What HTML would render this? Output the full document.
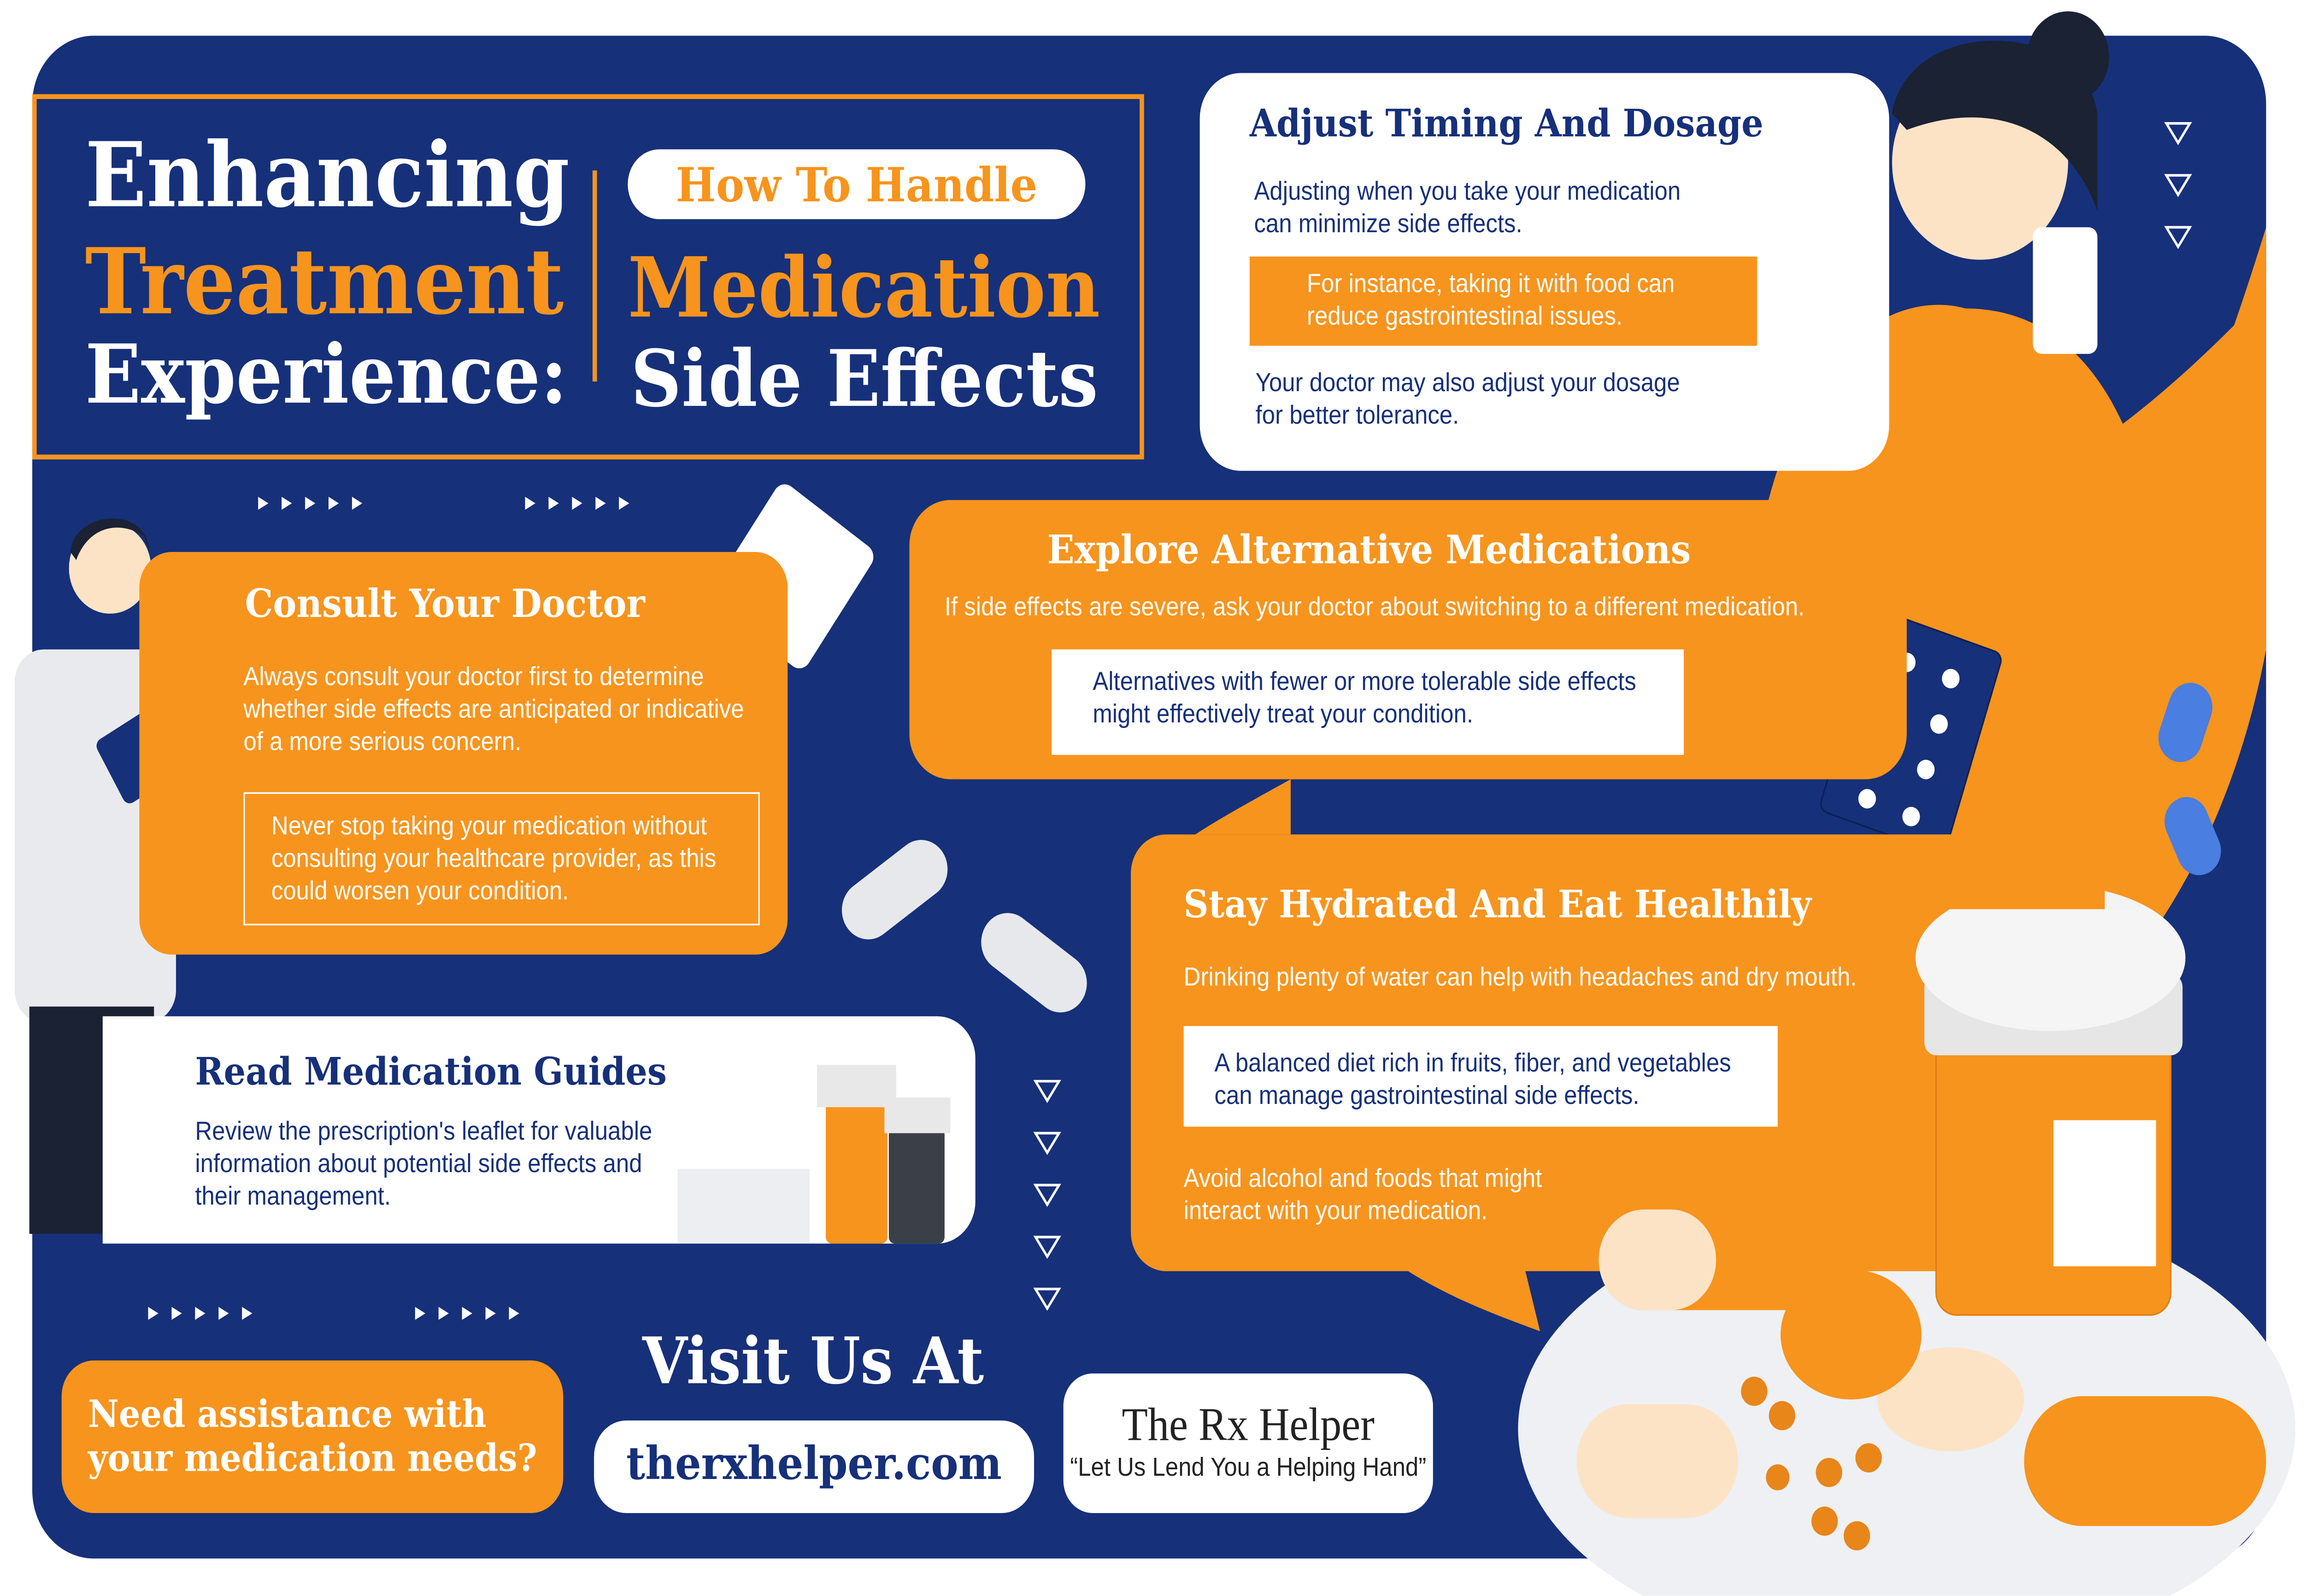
<!DOCTYPE html>
<html><head><meta charset="utf-8">
<style>
html,body{margin:0;padding:0;background:#fff;}
body{width:5525px;height:3463px;overflow:hidden;position:relative;}
#s{position:absolute;left:0;top:0;width:1568px;height:983px;overflow:hidden;transform:scale(3.183,3.5236);transform-origin:0 0;font-family:"Liberation Sans",sans-serif;}
.a{position:absolute;white-space:nowrap;}
.t{font-family:"DejaVu Serif","Liberation Serif",serif;font-weight:bold;}
.b{font-size:16px;line-height:20px;}
.nv{color:#16307a}
.wh{color:#fff}
.or{color:#f7941d}
</style></head><body><div id="s">
<div class="a" style="left:22px;top:22px;width:1523px;height:938px;background:#16307a;border-radius:42px;"></div>
<svg class="a" style="left:0;top:0" width="1568" height="983">
 <path d="M1545,140 C1480,330 1420,420 1300,470 L1300,700 C1450,640 1520,520 1545,400 Z" fill="#f7941d"/>
 <path d="M1290,320 C1340,320 1420,300 1545,180 L1545,320 C1480,420 1400,470 1290,480 Z" fill="#f7941d"/>
 <path d="M1300,470 L1475,430 L1420,620 L1300,700 Z" fill="#f7941d"/>
 <path d="M960,783 C990,800 1020,810 1050,820 L1040,783 Z" fill="#f7941d"/>
 <path d="M880,480 C850,495 830,505 815,514 L880,514 Z" fill="#f7941d"/>
 <ellipse cx="1300" cy="880" rx="265" ry="140" fill="#eef0f3"/>
 <rect x="1320" y="630" width="160" height="180" rx="14" fill="#f7941d" opacity=".92"/>
 <rect x="1400" y="690" width="70" height="90" fill="#fff"/>
 <rect x="1312" y="600" width="176" height="50" rx="8" fill="#e6e6e6"/>
 <ellipse cx="1398" cy="590" rx="92" ry="45" fill="#f3f3f3"/>
 <rect x="1090" y="745" width="170" height="62" rx="31" fill="#f7941d"/>
 <rect x="1090" y="745" width="80" height="62" rx="31" fill="#fde3c6"/>
 <rect x="1380" y="860" width="165" height="80" rx="40" fill="#f7941d"/>
 <rect x="1075" y="865" width="110" height="70" rx="35" fill="#fde3c6"/>
 <ellipse cx="1330" cy="862" rx="50" ry="32" fill="#fde3c6"/>
 <ellipse cx="1262" cy="822" rx="48" ry="40" fill="#f7941d"/>
 <g fill="#e8861a"><circle cx="1196" cy="857" r="9"/><circle cx="1215" cy="872" r="9"/><circle cx="1247" cy="907" r="9"/><circle cx="1274" cy="898" r="9"/><circle cx="1244" cy="937" r="9"/><circle cx="1266" cy="946" r="9"/><circle cx="1212" cy="910" r="8"/></g>
 <path d="M1200,330 C1230,200 1300,180 1340,190 C1400,190 1450,230 1470,330 L1470,360 L1200,360 Z" fill="#f7941d"/>
 <circle cx="1350" cy="100" r="60" fill="#fde3c6"/>
 <path d="M1290,70 C1300,10 1420,10 1430,70 L1430,130 C1410,80 1360,60 1300,80 Z" fill="#1a2233"/>
 <circle cx="1410" cy="35" r="28" fill="#1a2233"/>
 <rect x="1386" y="140" width="44" height="78" rx="6" fill="#fff"/>
 <rect x="10" y="400" width="110" height="230" rx="20" fill="#e8eaed"/>
 <rect x="20" y="620" width="85" height="140" fill="#1a2233"/>
 <circle cx="75" cy="350" r="28" fill="#fde3c6"/>
 <path d="M48,340 C50,315 100,310 102,340 L98,330 C80,320 60,325 52,345Z" fill="#1a2233"/>
 <rect x="70" y="440" width="60" height="45" rx="5" fill="#16307a" transform="rotate(-30 100 460)"/>
 <rect x="500" y="310" width="80" height="90" rx="8" fill="#fff" transform="rotate(35 540 355)"/>
 <rect x="1258" y="385" width="90" height="130" rx="6" fill="#16307a" stroke="#0e1f52" transform="rotate(18 1300 450)"/>
 <g fill="#fff"><circle cx="1300" cy="408" r="6"/><circle cx="1330" cy="418" r="6"/><circle cx="1292" cy="435" r="6"/><circle cx="1322" cy="446" r="6"/><circle cx="1283" cy="463" r="6"/><circle cx="1313" cy="474" r="6"/><circle cx="1273" cy="492" r="6"/><circle cx="1303" cy="503" r="6"/></g>
 <rect x="570" y="530" width="80" height="36" rx="18" fill="#e6e8ec" transform="rotate(-35 610 548)"/>
 <rect x="665" y="575" width="80" height="36" rx="18" fill="#e6e8ec" transform="rotate(35 705 593)"/>
 <rect x="1475" y="420" width="30" height="50" rx="15" fill="#4a7ee0" transform="rotate(20 1490 445)"/>
 <rect x="1480" y="490" width="30" height="50" rx="15" fill="#4a7ee0" transform="rotate(-25 1495 515)"/>
 <g fill="none" stroke="#fff" stroke-width="1.6">
  <path d="M1477,76 h16 l-8,12z M1477,108 h16 l-8,12z M1477,140 h16 l-8,12z"/>
  <path d="M706,666 h16 l-8,12z M706,698 h16 l-8,12z M706,730 h16 l-8,12z M706,762 h16 l-8,12z M706,794 h16 l-8,12z"/>
 </g>
 <g fill="#fff">
  <path d="M176,306 l7,4 -7,4z M192,306 l7,4 -7,4z M208,306 l7,4 -7,4z M224,306 l7,4 -7,4z M240,306 l7,4 -7,4z"/>
  <path d="M358,306 l7,4 -7,4z M374,306 l7,4 -7,4z M390,306 l7,4 -7,4z M406,306 l7,4 -7,4z M422,306 l7,4 -7,4z"/>
  <path d="M101,805 l7,4 -7,4z M117,805 l7,4 -7,4z M133,805 l7,4 -7,4z M149,805 l7,4 -7,4z M165,805 l7,4 -7,4z"/>
  <path d="M283,805 l7,4 -7,4z M299,805 l7,4 -7,4z M315,805 l7,4 -7,4z M331,805 l7,4 -7,4z M347,805 l7,4 -7,4z"/>
 </g>
</svg>

<div class="a" style="left:22px;top:58px;width:752px;height:219px;border:3px solid #f7941d;"></div>
<div class="a" style="left:404px;top:105px;width:3px;height:130px;background:#f7941d"></div>
<div class="a t wh" style="left:58px;top:76px;font-size:55px;line-height:64px;">Enhancing</div>
<div class="a t or" style="left:58px;top:140px;font-size:56px;line-height:68px;">Treatment</div>
<div class="a t wh" style="left:58px;top:201px;font-size:50px;line-height:60px;">Experience:</div>
<div class="a" style="left:428px;top:92px;width:312px;height:43px;background:#fff;border-radius:22px;"></div>
<div class="a t or" style="left:428px;top:94px;width:312px;text-align:center;font-size:29px;line-height:40px;">How To Handle</div>
<div class="a t or" style="left:428px;top:147px;font-size:51px;line-height:62px;">Medication</div>
<div class="a t wh" style="left:430px;top:205px;font-size:48px;line-height:58px;">Side Effects</div>

<div class="a" style="left:818px;top:45px;width:470px;height:245px;background:#fff;border-radius:28px;"></div>
<div class="a t nv" style="left:852px;top:62px;font-size:23.5px;">Adjust Timing And Dosage</div>
<div class="a b nv" style="left:855px;top:109px;">Adjusting when you take your medication<br>can minimize side effects.</div>
<div class="a" style="left:852px;top:158px;width:346px;height:55px;background:#f7941d;"></div>
<div class="a b wh" style="left:891px;top:166px;">For instance, taking it with food can<br>reduce gastrointestinal issues.</div>
<div class="a b nv" style="left:856px;top:227px;">Your doctor may also adjust your dosage<br>for better tolerance.</div>

<div class="a" style="left:620px;top:308px;width:680px;height:172px;background:#f7941d;border-radius:28px;"></div>
<div class="a t wh" style="left:714px;top:324px;font-size:24.3px;">Explore Alternative Medications</div>
<div class="a b wh" style="left:644px;top:365px;">If side effects are severe, ask your doctor about switching to a different medication.</div>
<div class="a" style="left:717px;top:400px;width:431px;height:65px;background:#fff;"></div>
<div class="a b nv" style="left:745px;top:411px;">Alternatives with fewer or more tolerable side effects<br>might effectively treat your condition.</div>

<div class="a" style="left:95px;top:340px;width:442px;height:248px;background:#f7941d;border-radius:22px;"></div>
<div class="a t wh" style="left:167px;top:357px;font-size:24px;">Consult Your Doctor</div>
<div class="a b wh" style="left:166px;top:408px;">Always consult your doctor first to determine<br>whether side effects are anticipated or indicative<br>of a more serious concern.</div>
<div class="a" style="left:166px;top:488px;width:350px;height:80px;border:1.5px solid #fff;"></div>
<div class="a b wh" style="left:185px;top:500px;">Never stop taking your medication without<br>consulting your healthcare provider, as this<br>could worsen your condition.</div>

<div class="a" style="left:70px;top:626px;width:595px;height:140px;background:#fff;border-radius:0 26px 26px 0;"></div>
<div class="a t nv" style="left:133px;top:646px;font-size:23.5px;">Read Medication Guides</div>
<div class="a b nv" style="left:133px;top:688px;">Review the prescription's leaflet for valuable<br>information about potential side effects and<br>their management.</div>
<div class="a" style="left:563px;top:678px;width:42px;height:88px;background:#f7941d;border-radius:4px;"></div>
<div class="a" style="left:557px;top:656px;width:54px;height:26px;background:#e8e8e8;"></div>
<div class="a" style="left:606px;top:695px;width:38px;height:71px;background:#3b3f47;border-radius:4px;"></div>
<div class="a" style="left:603px;top:676px;width:45px;height:22px;background:#e8e8e8;"></div>
<div class="a" style="left:462px;top:720px;width:90px;height:46px;background:#eceef1;"></div>

<div class="a" style="left:771px;top:514px;width:664px;height:269px;background:#f7941d;border-radius:24px;"></div>
<div class="a t wh" style="left:807px;top:543px;font-size:23.5px;">Stay Hydrated And Eat Healthily</div>
<div class="a b wh" style="left:807px;top:593px;">Drinking plenty of water can help with headaches and dry mouth.</div>
<div class="a" style="left:807px;top:632px;width:405px;height:62px;background:#fff;"></div>
<div class="a b nv" style="left:828px;top:646px;">A balanced diet rich in fruits, fiber, and vegetables<br>can manage gastrointestinal side effects.</div>
<div class="a b wh" style="left:807px;top:717px;">Avoid alcohol and foods that might<br>interact with your medication.</div>

<svg class="a" style="left:1060px;top:560px" width="508" height="423">
 <rect x="260" y="70" width="160" height="180" rx="14" fill="#f7941d" stroke="#e07f10"/>
 <rect x="340" y="130" width="70" height="90" fill="#fff"/>
 <rect x="252" y="40" width="176" height="50" rx="8" fill="#e6e6e6"/>
 <ellipse cx="338" cy="30" rx="92" ry="45" fill="#f5f5f5"/>
 <rect x="30" y="185" width="170" height="62" rx="31" fill="#f7941d"/>
 <rect x="30" y="185" width="80" height="62" rx="31" fill="#fde3c6"/>
 <ellipse cx="202" cy="262" rx="48" ry="40" fill="#f7941d"/>
</svg>

<div class="a" style="left:42px;top:838px;width:342px;height:94px;background:#f7941d;border-radius:22px;"></div>
<div class="a t wh" style="left:60px;top:858px;font-size:23px;line-height:27px;">Need assistance with<br>your medication needs?</div>
<div class="a t wh" style="left:438px;top:816px;font-size:39.5px;">Visit Us At</div>
<div class="a" style="left:405px;top:875px;width:300px;height:57px;background:#fff;border-radius:22px;"></div>
<div class="a t nv" style="left:405px;top:885px;width:300px;text-align:center;font-size:28px;">therxhelper.com</div>
<div class="a" style="left:725px;top:846px;width:252px;height:86px;background:#fff;border-radius:20px;"></div>
<div class="a" style="left:725px;top:862px;width:252px;text-align:center;font-family:'Liberation Serif',serif;font-size:29px;color:#222;">The Rx Helper</div>
<div class="a" style="left:725px;top:896px;width:252px;text-align:center;font-family:'Liberation Sans Narrow','Liberation Sans',sans-serif;font-size:16px;color:#222;">“Let Us Lend You a Helping Hand”</div>
</div></body></html>
